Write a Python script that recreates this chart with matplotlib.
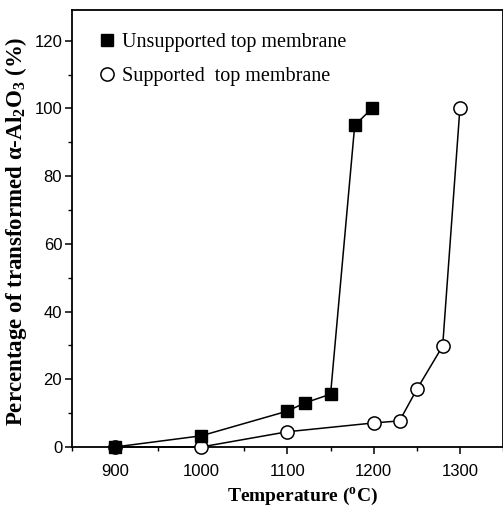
import matplotlib
matplotlib.use("Agg")
import matplotlib.pyplot as plt
from matplotlib.ticker import MultipleLocator

# data
unsup_temp = [900, 1000, 1100, 1120, 1150, 1178, 1198]
unsup_pct = [0, 3.3, 10.6, 13, 15.6, 95, 100]
sup_temp = [900, 1000, 1100, 1200, 1230, 1250, 1280, 1300]
sup_pct = [0, 0, 4.5, 7.1, 7.7, 17, 29.8, 100]

plt.rcParams['font.family'] = ['Liberation Sans', 'DejaVu Sans']
plt.rcParams['mathtext.default'] = 'regular'

fig = plt.figure(figsize=(5.03, 5.12), dpi=100)
ax = fig.add_axes([0.143, 0.127, 0.857, 0.853])

ax.plot(sup_temp, sup_pct, color='black', linewidth=1.1, marker='o', markersize=9.5,
        markerfacecolor='white', markeredgecolor='black', markeredgewidth=1.1,
        label='Supported  top membrane', clip_on=False, zorder=3)
ax.plot(unsup_temp, unsup_pct, color='black', linewidth=1.1, marker='s', markersize=8.5,
        markerfacecolor='black', markeredgecolor='black',
        label='Unsupported top membrane', clip_on=False, zorder=4)

ax.set_xlim(850, 1350)
ax.set_ylim(0, 129)
ax.xaxis.set_major_locator(MultipleLocator(100))
ax.xaxis.set_minor_locator(MultipleLocator(50))
ax.yaxis.set_major_locator(MultipleLocator(20))
ax.yaxis.set_minor_locator(MultipleLocator(10))
ax.tick_params(which='major', length=5, width=1.1, labelsize=12, direction='out')
ax.tick_params(which='minor', length=3, width=1.0, direction='out')
ax.tick_params(axis='x', pad=7)
ax.tick_params(axis='y', pad=2)
for s in ax.spines.values():
    s.set_linewidth(1.3)

ax.set_xlabel('Temperature ($^{o}$C)', family='Liberation Serif', fontweight='bold',
              fontsize=14)
ax.xaxis.set_label_coords(0.536, -0.09)
ax.set_ylabel('Percentage of transformed α-Al$_2$O$_3$ (%)', family='Liberation Serif',
              fontweight='bold', fontsize=16.5)
ax.yaxis.set_label_coords(-0.1, 0.494)

handles, labels = ax.get_legend_handles_labels()
leg = ax.legend(handles[::-1], labels[::-1], loc='upper left', frameon=False,
                prop={'family': 'Liberation Serif', 'size': 14.5}, handlelength=0,
                handletextpad=0.75, borderaxespad=0, labelspacing=0.75,
                bbox_to_anchor=(0.063, 0.966))
for h in leg.legend_handles:
    h.set_linestyle('None')

fig.savefig('out.png', dpi=100)
